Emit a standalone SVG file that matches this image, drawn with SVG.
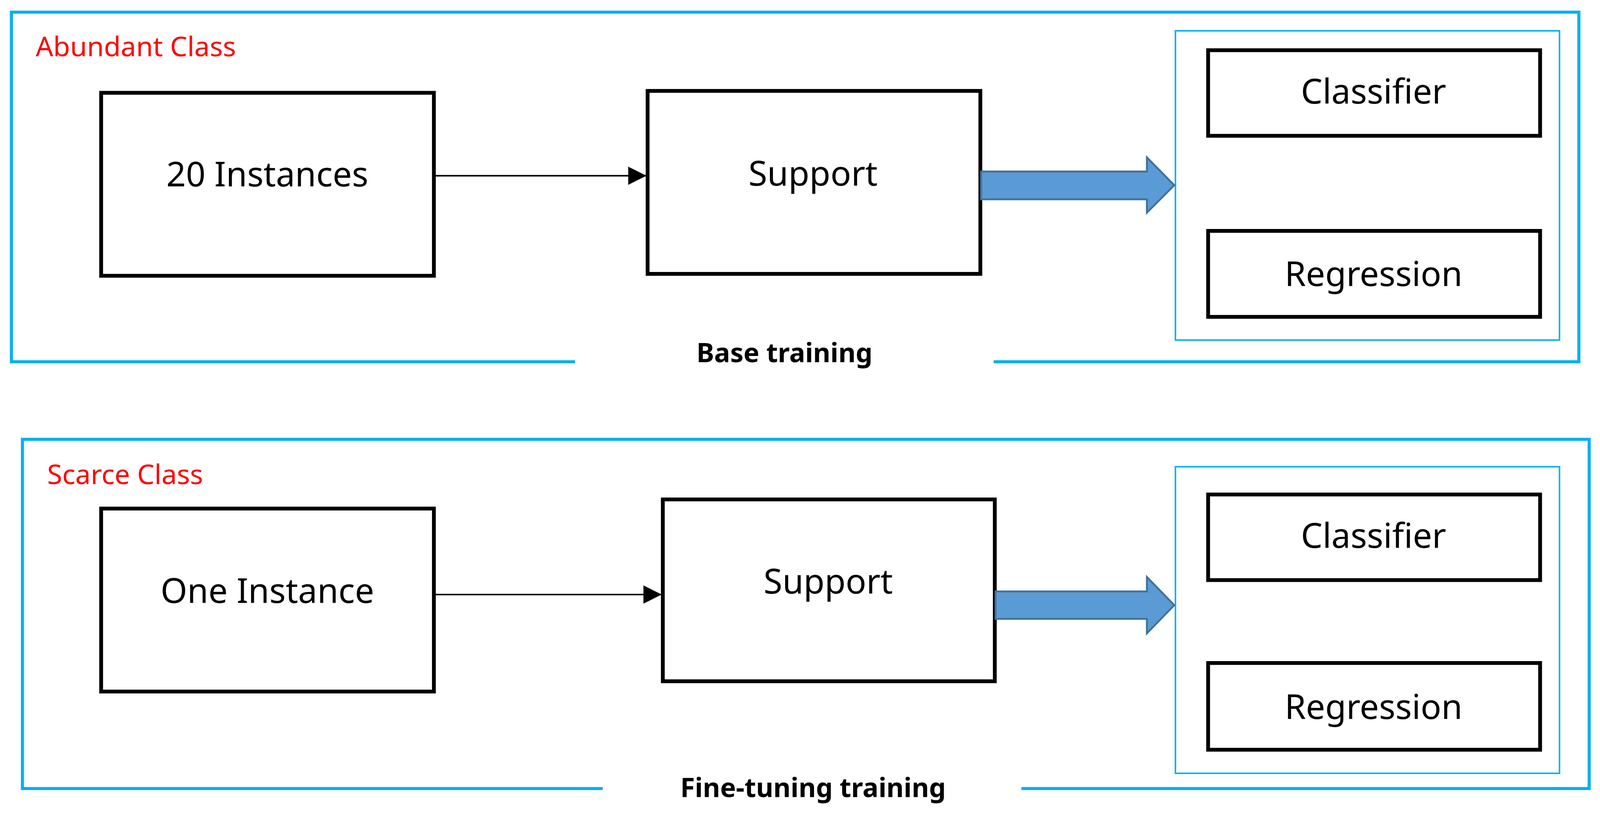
<svg xmlns="http://www.w3.org/2000/svg" width="4211" height="2137" viewBox="0 0 4211 2137">
<style>
.frame{fill:none;stroke:#00b0f0;stroke-width:8}
.inner{fill:none;stroke:#00b0f0;stroke-width:4}
.box{fill:#fff;stroke:#000;stroke-width:10}
.t{font-family:"Noto Sans","Open Sans",sans-serif;font-size:90px;fill:#000;text-anchor:middle}
.red{font-family:"Noto Sans","Open Sans",sans-serif;font-size:72px;fill:#ff0000}
.b{font-family:"Noto Sans","Open Sans",sans-serif;font-size:70px;font-weight:bold;fill:#000;text-anchor:middle}
.thin{stroke:#000;stroke-width:4;fill:none}
.big{fill:#5b9bd5;stroke:#41719c;stroke-width:5}
</style>
<defs>
<marker id="ah2" viewBox="0 0 10 10" refX="10" refY="5" markerWidth="48" markerHeight="48" markerUnits="userSpaceOnUse" orient="auto"><path d="M0,0 L10,5 L0,10 z" fill="#000"/></marker></defs>
<g transform="scale(0.9735)">
<g id="frame-base">
<path class="frame" d="M1512,951 L30,951 L30,32 L4152,32 L4152,951 L2613,951"/>
<text class="red" x="94" y="148">Abundant Class</text>
<text class="b" x="2063" y="952">Base training</text>
</g>
<g id="frame-fine">
<path class="frame" d="M1585,2073 L59,2073 L59,1155 L4179,1155 L4179,2073 L2686,2073"/>
<text class="red" x="124" y="1273">Scarce Class</text>
<text class="b" x="2138" y="2096">Fine-tuning training</text>
</g>
<g id="n-20inst"><rect class="box" x="266" y="244" width="875" height="481"/><text class="t" x="703" y="490">20 Instances</text></g>
<g id="n-support1"><rect class="box" x="1703" y="239" width="875" height="481"/><text class="t" x="2138" y="488">Support</text></g>
<g id="n-heads1"><rect class="inner" x="3091" y="81" width="1010" height="813"/>
<rect class="box" x="3177" y="132" width="873" height="225"/><text class="t" x="3612" y="272">Classifier</text>
<rect class="box" x="3177" y="607" width="873" height="226"/><text class="t" x="3612" y="752">Regression</text></g>
<g id="n-oneinst"><rect class="box" x="266" y="1337" width="875" height="481"/><text class="t" x="703" y="1585">One Instance</text></g>
<g id="n-support2"><rect class="box" x="1743" y="1313" width="873" height="478"/><text class="t" x="2178" y="1560">Support</text></g>
<g id="n-heads2"><rect class="inner" x="3091" y="1227" width="1010" height="806"/>
<rect class="box" x="3177" y="1300" width="873" height="225"/><text class="t" x="3612" y="1440">Classifier</text>
<rect class="box" x="3177" y="1743" width="873" height="228"/><text class="t" x="3612" y="1890">Regression</text></g>
<g id="connectors">
<line class="thin" x1="1141" y1="462" x2="1700" y2="462" marker-end="url(#ah2)"/>
<line class="thin" x1="1141" y1="1563" x2="1740" y2="1563" marker-end="url(#ah2)"/>
<path class="big" d="M2580,451 L3016,451 L3016,414 L3088,487 L3016,559 L3016,524 L2580,524 z"/>
<path class="big" d="M2618,1555 L3016,1555 L3016,1517 L3088,1591 L3016,1665 L3016,1627 L2618,1627 z"/>
</g>
</g>
</svg>
